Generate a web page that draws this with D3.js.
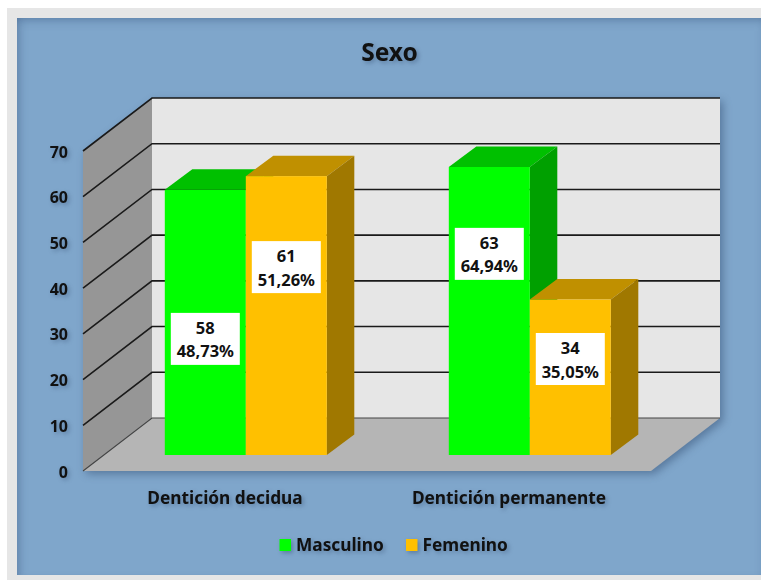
<!DOCTYPE html>
<html>
<head>
<meta charset="utf-8">
<script src="https://cdnjs.cloudflare.com/ajax/libs/d3/7.8.5/d3.min.js"></script>
<style>
html,body{margin:0;padding:0;background:#fff;overflow:hidden}
#frame{position:absolute;left:7px;top:8px;width:754px;height:572px;background:#e6e6e6}
#panel{position:absolute;left:17px;top:18px;width:744px;height:557px;background:#7fa6cb;box-shadow:inset 0 6px 10px -4px rgba(70,100,140,.55),inset 8px 0 10px -6px rgba(70,100,140,.45)}
svg{position:absolute;left:0;top:0}
text{font-family:"Noto Sans",sans-serif;font-weight:700;fill:#111}
.sh{filter:drop-shadow(2px 2px 2px rgba(40,65,100,.4))}
</style>
</head>
<body>
<div id="frame"></div><div id="panel"></div>
<svg id="c" width="761" height="581"></svg>
<script>
const title = "Sexo";
const categories = ["Dentición decidua", "Dentición permanente"];
const seriesNames = ["Masculino", "Femenino"];
const masculino = [58, 63];
const femenino = [61, 34];
const masculinoPct = ["48,73%", "64,94%"];
const femeninoPct = ["51,26%", "35,05%"];
const yTicks = [0, 10, 20, 30, 40, 50, 60, 70];
const seriesColors = ["#00ff00", "#ffc000"];
const seriesTops = ["#00c000", "#c09000"];
const seriesSides = ["#00a000", "#a07800"];

// layout
const left = 83, right = 651, y0 = 471, y70 = 151;
const depthX = 69, depthY = -53;
const barDX = 20.8, barDY = -16, barDepthX = 27.5, barDepthY = -20.5;

const svg = d3.select("#c");
const y = d3.scaleLinear().domain([0, 70]).range([y0, y70]);
const x0 = d3.scaleBand().domain(categories).range([left, right]);
const x1 = d3.scaleBand().domain(seriesNames).range([-81, 81]);
const poly = pts => pts.map(p => p.join(",")).join(" ");

const plot = svg.append("g");

// walls and floor
const walls = plot.append("g").style("filter", "drop-shadow(3px 3px 4px rgba(40,65,100,.45))");
walls.append("polygon").attr("fill", "#e6e6e6")
  .attr("points", poly([[left+depthX, y(70)+depthY],[right+depthX, y(70)+depthY],[right+depthX, y(0)+depthY],[left+depthX, y(0)+depthY]]));
walls.append("polygon").attr("fill", "#969696")
  .attr("points", poly([[left, y(70)],[left+depthX, y(70)+depthY],[left+depthX, y(0)+depthY],[left, y(0)]]));
walls.append("polygon").attr("fill", "#b5b5b5")
  .attr("points", poly([[left, y(0)],[left+depthX, y(0)+depthY],[right+depthX, y(0)+depthY],[right, y(0)]]));

// gridlines
const grid = plot.append("g");
grid.selectAll("polyline").data(yTicks).join("polyline")
  .attr("fill", "none")
  .attr("stroke", d => d === 0 ? "#444" : "#1a1a1a")
  .attr("stroke-width", d => d === 0 ? 1.1 : 1.6)
  .attr("points", d => poly([[left, y(d)],[left+depthX, y(d)+depthY],[right+depthX, y(d)+depthY]]));

// bars
const values = [masculino, femenino];
const pcts = [masculinoPct, femeninoPct];
const bw = x1.bandwidth();
const base = y(0) + barDY;
categories.forEach((cat, ci) => {
  const cx = x0(cat) + x0.bandwidth() / 2 + barDX;
  seriesNames.forEach((s, si) => {
    const v = values[si][ci];
    const xa = cx + x1(s), xb = xa + bw, top = y(v) + barDY;
    const g = plot.append("g");
    g.append("polygon").attr("fill", seriesTops[si])
      .attr("points", poly([[xa, top],[xa+barDepthX, top+barDepthY],[xb+barDepthX, top+barDepthY],[xb, top]]));
    g.append("polygon").attr("fill", seriesSides[si])
      .attr("points", poly([[xb, top],[xb+barDepthX, top+barDepthY],[xb+barDepthX, base+barDepthY],[xb, base]]));
    g.append("rect").attr("fill", seriesColors[si])
      .attr("x", xa).attr("y", top).attr("width", bw).attr("height", base - top);
  });
});

// data labels, placed at a height along the bar in axis units
const labelAt = [[25.4, 44.0], [41.1, 21]];
categories.forEach((cat, ci) => {
  const cx = x0(cat) + x0.bandwidth() / 2 + barDX;
  seriesNames.forEach((s, si) => {
    const mx = cx + x1(s) + bw / 2;
    const my = y(labelAt[si][ci]) + barDY;
    const g = svg.append("g");
    g.append("rect").attr("x", mx - 34.5).attr("y", my - 26).attr("width", 69).attr("height", 52).attr("fill", "#fff");
    g.append("text").attr("x", mx).attr("y", my - 11.5).attr("text-anchor", "middle")
      .attr("dominant-baseline", "central").attr("font-size", 16.5).text(values[si][ci]);
    g.append("text").attr("x", mx).attr("y", my + 12).attr("text-anchor", "middle")
      .attr("dominant-baseline", "central").attr("font-size", 16.5).text(pcts[si][ci]);
  });
});

// text with soft shadow
const txt = svg.append("g").attr("class", "sh");
txt.append("text").attr("x", 389.5).attr("y", 51).attr("text-anchor", "middle")
  .attr("dominant-baseline", "central").attr("font-size", 24.5).text(title);
const axisG = txt.append("g").attr("transform", `translate(${left - 15},1)`)
  .call(d3.axisLeft(y).tickValues(yTicks).tickSize(0).tickPadding(0));
axisG.select(".domain").remove();
axisG.attr("font-family", null).attr("font-size", null);
axisG.selectAll("text").attr("font-size", 16).attr("fill", null);
txt.selectAll(".cat").data(categories).join("text").attr("class", "cat")
  .attr("x", d => x0(d) + x0.bandwidth() / 2).attr("y", 497.5).attr("text-anchor", "middle")
  .attr("dominant-baseline", "central").attr("font-size", 17.3).text(d => d);

// legend
const legendX = [279.5, 406];
seriesNames.forEach((s, i) => {
  txt.append("rect").attr("x", legendX[i]).attr("y", 539).attr("width", 11.5).attr("height", 12).attr("fill", seriesColors[i]);
  txt.append("text").attr("x", legendX[i] + 16.5).attr("y", 544).attr("dominant-baseline", "central")
    .attr("font-size", 17.3).text(s);
});
</script>
</body>
</html>
